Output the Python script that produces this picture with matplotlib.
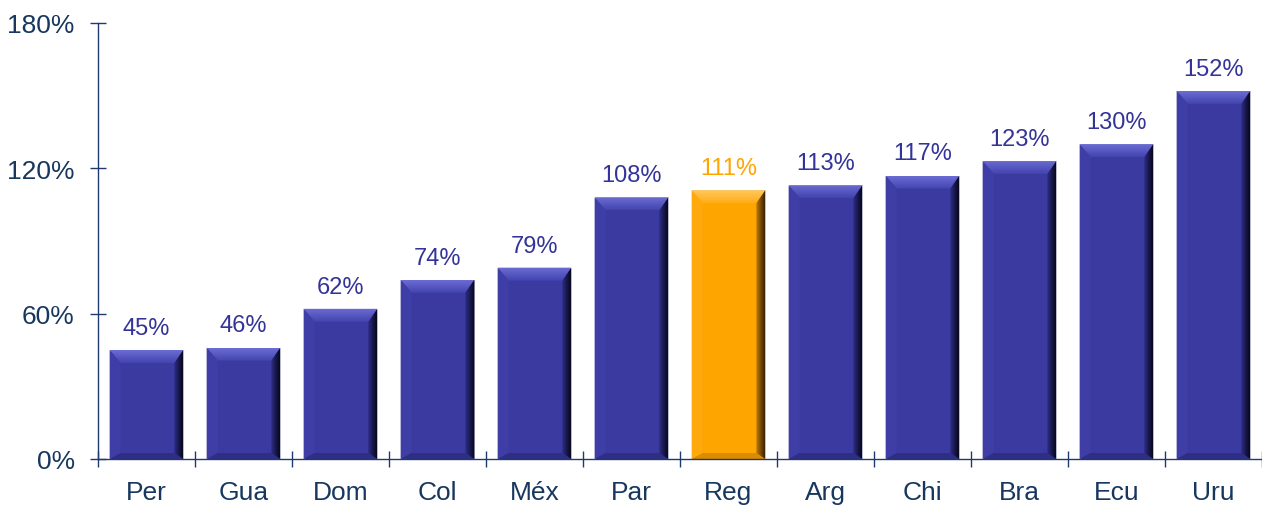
import matplotlib
matplotlib.use("Agg")
import matplotlib.pyplot as plt
import numpy as np
from matplotlib.patches import Polygon
from matplotlib.colors import LinearSegmentedColormap

categories = ["Per", "Gua", "Dom", "Col", "Méx", "Par", "Reg", "Arg", "Chi", "Bra", "Ecu", "Uru"]
values = [45, 46, 62, 74, 79, 108, 111, 113, 117, 123, 130, 152]
highlight = "Reg"
y_ticks = [0, 60, 120, 180]
y_ticklabels = ["0%", "60%", "120%", "180%"]

plt.rcParams['font.family'] = ['Liberation Sans', 'DejaVu Sans']

W, H, DPI = 1262, 506, 100
fig = plt.figure(figsize=(W / DPI, H / DPI), dpi=DPI)
ax = fig.add_axes([98 / W, 46 / H, 1 - 98 / W, (460 - 24) / H])

axis_col = "#1F3A6E"
label_col = "#17375E"
value_col = "#333399"

n = len(categories)
ax.set_xlim(-0.5, n - 0.5)
ax.set_ylim(0, 180)

ax_w_px = ax.get_position().width * W
ax_h_px = ax.get_position().height * H
dx = n / ax_w_px
dy = 180 / ax_h_px

bar_w = 0.76
palettes = {
    "blue": dict(face="#3A3AA0", top=("#6C6CD4", "#4444B0"), left="#3E3EA6", bottom="#2E2E84",
                 right=("#2E2E88", "#06061A")),
    "orange": dict(face="#FFA500", top=("#FFC85A", "#FFAD18"), left="#FFA90C", bottom="#DC8C00",
                   right=("#C27C00", "#3A2000")),
}

bars = ax.bar(range(n), values, width=bar_w, zorder=2,
              color=[palettes["orange"]["face"] if c == highlight else palettes["blue"]["face"] for c in categories],
              edgecolor="#C0C0D0", linewidth=0.6)

bl, br, bt, bb = 11 * dx, 9 * dx, 13 * dy, 6 * dy
for rect, cat in zip(bars, categories):
    pal = palettes["orange"] if cat == highlight else palettes["blue"]
    x0 = rect.get_x(); x1 = x0 + rect.get_width(); top = rect.get_height(); y0 = 0
    # top bevel (vertical gradient)
    tpoly = Polygon([(x0, top), (x1, top), (x1 - br, top - bt), (x0 + bl, top - bt)],
                    closed=True, facecolor="none", edgecolor="none", zorder=3)
    ax.add_patch(tpoly)
    tcmap = LinearSegmentedColormap.from_list("t", [pal["top"][1], pal["top"][0]])
    tim = ax.imshow(np.linspace(0, 1, 32).reshape(-1, 1), cmap=tcmap, origin="lower",
                    extent=(x0, x1, top - bt, top), aspect="auto", zorder=3,
                    interpolation="bilinear")
    tim.set_clip_path(tpoly)
    # left bevel
    ax.add_patch(Polygon([(x0, top), (x0 + bl, top - bt), (x0 + bl, y0 + bb), (x0, y0)],
                         closed=True, facecolor=pal["left"], edgecolor="none", zorder=3))
    # bottom bevel
    ax.add_patch(Polygon([(x0, y0), (x0 + bl, y0 + bb), (x1 - br, y0 + bb), (x1, y0)],
                         closed=True, facecolor=pal["bottom"], edgecolor="none", zorder=3))
    # right bevel with gradient
    poly = Polygon([(x1, top), (x1 - br, top - bt), (x1 - br, y0 + bb), (x1, y0)],
                   closed=True, facecolor="none", edgecolor="none", zorder=3)
    ax.add_patch(poly)
    cmap = LinearSegmentedColormap.from_list("g", list(pal["right"]))
    im = ax.imshow(np.linspace(0, 1, 64).reshape(1, -1), cmap=cmap,
                   extent=(x1 - br, x1, y0, top), aspect="auto",
                   zorder=3, interpolation="bilinear")
    im.set_clip_path(poly)
    col = "#FFA500" if cat == highlight else value_col
    ax.annotate(f"{rect.get_height():.0f}%", (rect.get_x() + rect.get_width() / 2, top),
                xytext=(0, 8), textcoords="offset points", ha="center", va="bottom",
                fontsize=17, color=col, zorder=4)

ax.set_xlim(-0.5, n - 0.5)
ax.set_ylim(0, 180)

for s in ["top", "right"]:
    ax.spines[s].set_visible(False)
for s in ["left", "bottom"]:
    ax.spines[s].set_color(axis_col)
    ax.spines[s].set_linewidth(1.0)
    ax.spines[s].set_zorder(5)

ax.set_yticks(y_ticks)
ax.set_yticklabels(y_ticklabels)
ax.tick_params(axis="y", direction="inout", length=11.5, width=1.0, color=axis_col,
               labelcolor=label_col, labelsize=19, pad=11)
ax.set_xticks(range(n))
ax.set_xticklabels(categories)
ax.set_xticks(np.arange(-0.5, n, 1.0), minor=True)
ax.tick_params(axis="x", which="major", length=0, labelcolor=label_col, labelsize=19, pad=15)
ax.tick_params(axis="x", which="minor", direction="inout", length=11, width=1.0, color=axis_col)

fig.savefig("out.png", dpi=DPI)
